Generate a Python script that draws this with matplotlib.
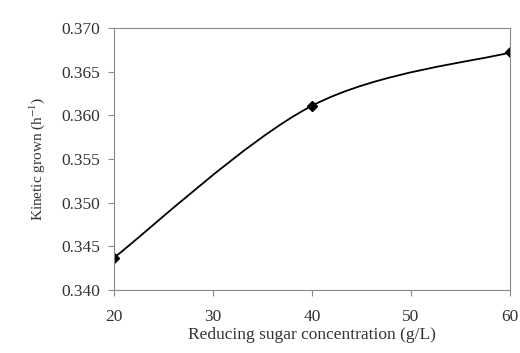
import numpy as np
import matplotlib.pyplot as plt
from matplotlib.path import Path
from matplotlib.patches import PathPatch

plt.rcParams['font.family'] = ['Liberation Serif', 'DejaVu Serif']
plt.rcParams['mathtext.fontset'] = 'stix'

sugar = [20, 40, 60]
growth = [0.3437, 0.3611, 0.3672]
xticks = [20, 30, 40, 50, 60]
yticks = [0.340, 0.345, 0.350, 0.355, 0.360, 0.365, 0.370]


def smoothPath(xs, ys):
    # excel-like smoothed line: cubic bezier with 1/6 tangents
    pts = np.column_stack([xs, ys])
    n = len(pts)
    verts = [pts[0]]
    codes = [Path.MOVETO]
    for i in range(n - 1):
        p0 = pts[i - 1] if i > 0 else pts[i]
        p1 = pts[i]
        p2 = pts[i + 1]
        p3 = pts[i + 2] if i + 2 < n else pts[i + 1]
        c1 = p1 + (p2 - p0) / 6.0
        c2 = p2 - (p3 - p1) / 6.0
        verts += [c1, c2, p2]
        codes += [Path.CURVE4] * 3
    return Path(verts, codes)


fig = plt.figure(figsize=(5.2, 3.53), dpi=100)
ax = fig.add_axes([114 / 520, 1 - 290 / 353, 396 / 520, 262 / 353])

ax.add_patch(PathPatch(smoothPath(sugar, growth), facecolor='none', edgecolor='black', lw=1.3))
ax.plot(sugar, growth, linestyle='none', marker='D', color='black', markersize=5)

ax.set_xlim(20, 60)
ax.set_ylim(0.340, 0.370)
ax.set_xticks(xticks)
ax.set_yticks(yticks)
ax.set_yticklabels([f"{v:.3f}" for v in yticks])
for s in ax.spines.values():
    s.set_color('#8a8a8a')
ax.tick_params(direction='out', length=4, color='#8a8a8a', labelsize=12.5, labelcolor='#333333')
ax.tick_params(axis='x', pad=10)
ax.tick_params(axis='y', pad=6)
ax.set_xlabel("Reducing sugar concentration (g/L)", fontsize=12.5, color='#333333', labelpad=1)
ax.set_ylabel("Kinetic grown (h$^{\\mathrm{-1}}$)", fontsize=11, color='#333333', labelpad=10)

fig.savefig('out.png', dpi=100)
